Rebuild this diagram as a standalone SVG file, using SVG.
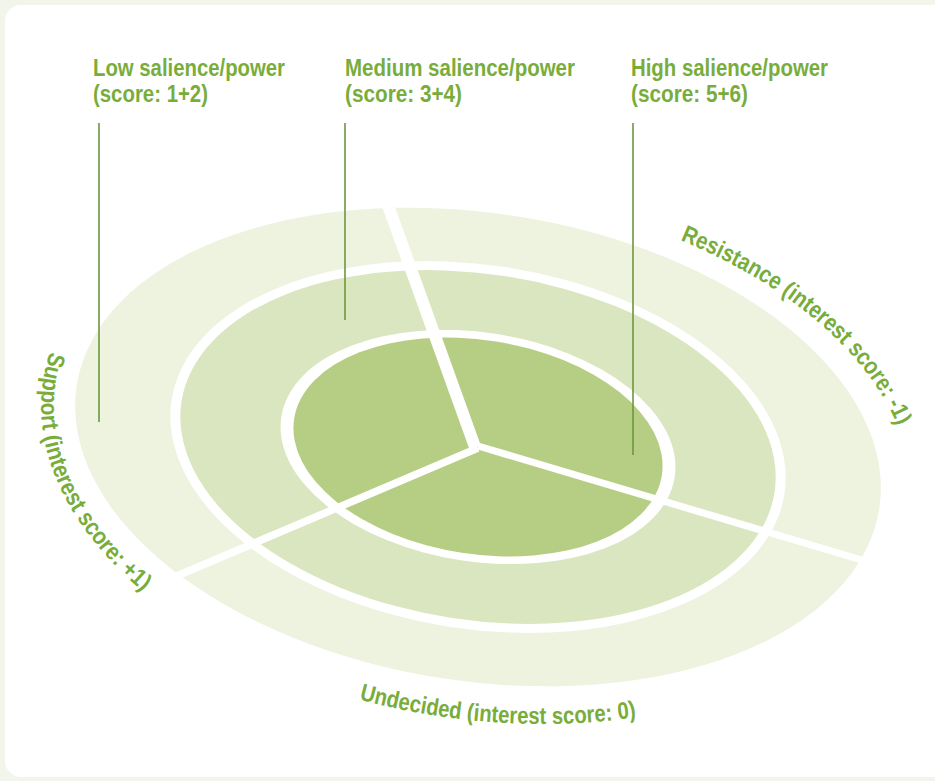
<svg xmlns="http://www.w3.org/2000/svg" width="935" height="781" viewBox="0 0 935 781">
  <style>
    .lbl { font-family: "Liberation Sans", Arial, sans-serif; font-weight: bold; font-size: 23px; fill: #79ad3b; }
    .arc { font-family: "Liberation Sans", Arial, sans-serif; font-weight: bold; font-size: 24px; fill: #79ad3b; }
    .leader { stroke: #6b983d; stroke-width: 1.6; fill: none; }
    .div { stroke: #ffffff; fill: none; stroke-linecap: butt; }
  </style>
  <defs>
    <path id="pathLeft" d="M 0,-272 A 440,272 0 0,0 -440,0 A 440,272 0 0,0 0,272 A 440,272 0 0,0 440,0"/>
    <path id="pathRight" d="M -436,0 A 436,255 0 0,1 0,-255 A 436,255 0 0,1 436,0 A 436,255 0 0,1 0,255"/>
  </defs>
  <rect x="0" y="0" width="935" height="781" fill="#f2f5ec"/>
  <rect x="5" y="5" width="960" height="772" rx="16" fill="#ffffff"/>

  <g id="rings" transform="translate(478,447) rotate(8.7)">
    <ellipse id="ring-undecided-outer" cx="0" cy="0" rx="406" ry="234" fill="#eef3e0"/>
    <ellipse cx="0" cy="0" rx="310" ry="182" fill="#ffffff"/>
    <ellipse id="ring-medium" cx="0" cy="0" rx="300" ry="173" fill="#dae6c0"/>
    <ellipse cx="0" cy="0" rx="199" ry="114.5" fill="#ffffff"/>
    <ellipse id="ring-high" cx="0" cy="0" rx="186" ry="107" fill="#b6ce84"/>
  </g>

  <g id="connectors">
    <line class="div" x1="475" y1="447" x2="385" y2="197" stroke-width="12"/>
    <line class="div" x1="478" y1="446" x2="875" y2="564" stroke-width="7"/>
    <line class="div" x1="478" y1="448" x2="165" y2="581" stroke-width="7.5"/>
    <line class="leader" x1="99" y1="123" x2="99" y2="422"/>
    <line class="leader" x1="345" y1="123" x2="345" y2="320"/>
    <line class="leader" x1="633" y1="123" x2="633" y2="455"/>
  </g>

  <g id="label-low">
    <text class="lbl" x="93" y="76" textLength="192" lengthAdjust="spacingAndGlyphs">Low salience/power</text>
    <text class="lbl" x="93" y="102" textLength="115" lengthAdjust="spacingAndGlyphs">(score: 1+2)</text>
  </g>
  <g id="label-medium">
    <text class="lbl" x="345" y="76" textLength="230" lengthAdjust="spacingAndGlyphs">Medium salience/power</text>
    <text class="lbl" x="345" y="102" textLength="117" lengthAdjust="spacingAndGlyphs">(score: 3+4)</text>
  </g>
  <g id="label-high">
    <text class="lbl" x="631" y="76" textLength="197" lengthAdjust="spacingAndGlyphs">High salience/power</text>
    <text class="lbl" x="631" y="102" textLength="117" lengthAdjust="spacingAndGlyphs">(score: 5+6)</text>
  </g>

  <g id="arc-labels" transform="translate(478,447) rotate(8.7)">
    <g id="label-support">
      <text class="arc"><textPath href="#pathLeft" startOffset="537" textLength="274" lengthAdjust="spacingAndGlyphs">Support (interest score: +1)</textPath></text>
    </g>
    <g id="label-undecided">
      <text class="arc"><textPath href="#pathLeft" startOffset="1054" textLength="280" lengthAdjust="spacingAndGlyphs">Undecided (interest score: 0)</textPath></text>
    </g>
    <g id="label-resistance">
      <text class="arc"><textPath href="#pathRight" startOffset="722" textLength="293" lengthAdjust="spacingAndGlyphs">Resistance (interest score: -1)</textPath></text>
    </g>
  </g>
</svg>
